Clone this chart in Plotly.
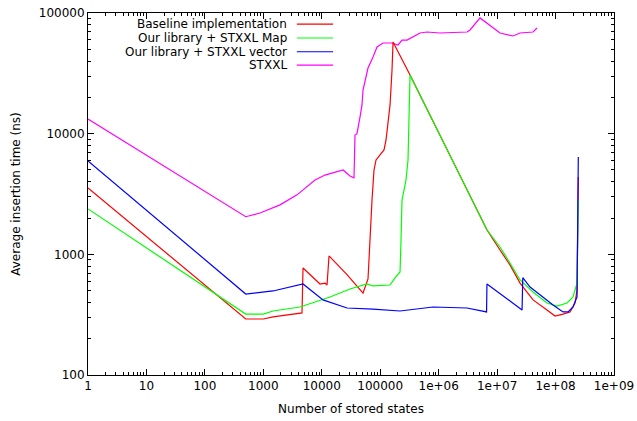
import plotly.graph_objects as go

# ---- data ----
baseline_x = [1, 500, 1000, 1465, 4590, 4775, 9330, 11350, 12300, 13300, 27000, 50800, 61800, 66900,
              72400, 78300, 84800, 99300, 116100, 125700, 135900, 147200, 159200, 165600,
              323600, 6.72e6, 1.12e7, 1.66e7, 2.47e7, 4.12e7, 7.14e7, 9.8e7, 1.34e8, 1.77e8,
              2.15e8, 2.33e8, 2.45e8]
baseline_y = [3550, 291, 291, 303, 327, 771, 568, 578, 557, 970, 680, 478, 625, 1500,
              2820, 5000, 6050, 6660, 7330, 8870, 11800, 17300, 33700, 57500,
              30600, 1590, 1087, 817, 578, 419, 346, 308, 320, 333,
              395, 506, 4380]

map_x = [1, 500, 1000, 1465, 4245, 13800, 30400, 59500, 75300, 147200, 179200, 218200,
         227000, 236000, 255500, 276000, 299000, 311000, 323600, 6.72e6, 1.12e7, 1.66e7,
         2.47e7, 4.12e7, 7.14e7, 1.06e8, 1.57e8, 1.99e8, 2.33e8, 2.45e8]
map_y = [2380, 320, 320, 339, 366, 443, 516, 568, 547, 557, 637, 714,
         1315, 2820, 3410, 4130, 6050, 13000, 30600, 1590, 1150, 847,
         613, 488, 395, 373, 395, 443, 578, 2820]

vector_x = [1, 500, 1465, 4775, 10500, 27000, 75300, 218200, 800000, 3.05e6, 6.6e6, 6.7e6,
            2.67e7, 2.75e7, 3.66e7, 5.42e7, 9.06e7, 1.34e8, 1.64e8, 1.99e8, 2.33e8, 2.45e8]
vector_y = [5940, 469, 497, 568, 419, 359, 352, 339, 366, 359, 333, 568,
            346, 640, 536, 460, 380, 333, 333, 366, 443, 6410]

stxxl_x = [1, 500, 877, 1930, 3770, 7660, 11350, 16900, 23100, 30400, 35600, 37000, 40000,
           45100, 48800, 50800, 61800, 75300, 88200, 111600, 159200, 201700, 236000, 287500,
           350000, 480000, 632000, 1.05e6, 3.05e6, 3.44e6, 5.1e6, 1.12e7, 1.87e7, 2.47e7,
           4.12e7, 4.82e7]
stxxl_y = [13200, 2050, 2200, 2570, 3110, 4130, 4540, 4810, 5000, 4460, 4300, 9750, 10000,
           13700, 17300, 23000, 35000, 43200, 52300, 56400, 56400, 54300, 59700, 59700,
           63200, 68300, 69600, 68300, 69600, 72300, 91000, 68300, 64500, 68300,
           69600, 75100]

names = ["Baseline implementation", "Our library + STXXL Map",
         "Our library + STXXL vector", "STXXL"]
colors = ["#ff0000", "#00ff00", "#0000ff", "#ff00ff"]
series = [(baseline_x, baseline_y), (map_x, map_y), (vector_x, vector_y), (stxxl_x, stxxl_y)]

x_tickvals = [1, 10, 100, 1000, 10000, 100000, 1e6, 1e7, 1e8, 1e9]
x_ticktext = ["1", "10", "100", "1000", "10000", "100000", "1e+06", "1e+07", "1e+08", "1e+09"]
y_tickvals = [100, 1000, 10000, 100000]
y_ticktext = ["100", "1000", "10000", "100000"]

FONT = "DejaVu Sans"
FS = 12
fig = go.Figure()
order = [3, 0, 1, 2]
for i in order:
    xs, ys = series[i]
    fig.add_trace(go.Scatter(x=xs, y=ys, mode="lines", name=names[i],
                             line=dict(color=colors[i], width=1.2), showlegend=False))

# manual gnuplot-style legend (text right-aligned, sample on the right)
leg_y = [0.969, 0.931, 0.893, 0.856]
for i in range(4):
    fig.add_annotation(x=0.382, y=leg_y[i], xref="paper", yref="paper", text=names[i],
                       showarrow=False, xanchor="right", yanchor="middle",
                       font=dict(family=FONT, size=FS, color="#000000"))
    fig.add_shape(type="line", xref="paper", yref="paper", x0=0.397, x1=0.466,
                  y0=leg_y[i], y1=leg_y[i], line=dict(color=colors[i], width=1.2))

axis_common = dict(type="log", showline=True, linecolor="#000000", linewidth=1, mirror="allticks",
                   ticks="inside", ticklen=6, tickcolor="#000000", showgrid=False, zeroline=False,
                   automargin=False,
                   tickfont=dict(family=FONT, size=FS, color="#000000"),
                   minor=dict(ticks="inside", ticklen=3, tickcolor="#000000", dtick="D1",
                              showgrid=False))

fig.update_xaxes(range=[0, 9], tickmode="array", tickvals=x_tickvals, ticktext=x_ticktext,
                 title=dict(text="Number of stored states", font=dict(family=FONT, size=FS, color="#000000"),
                            standoff=12),
                 **axis_common)
fig.update_yaxes(range=[2, 5], tickmode="array", tickvals=y_tickvals, ticktext=y_ticktext,
                 title=dict(text="Average insertion time (ns)", font=dict(family=FONT, size=FS, color="#000000"),
                            standoff=15),
                 **axis_common)

fig.update_layout(width=637, height=421, margin=dict(l=88, r=23, t=13, b=46),
                  paper_bgcolor="white", plot_bgcolor="white",
                  font=dict(family=FONT, size=FS, color="#000000"))

fig.write_html("out.html")
